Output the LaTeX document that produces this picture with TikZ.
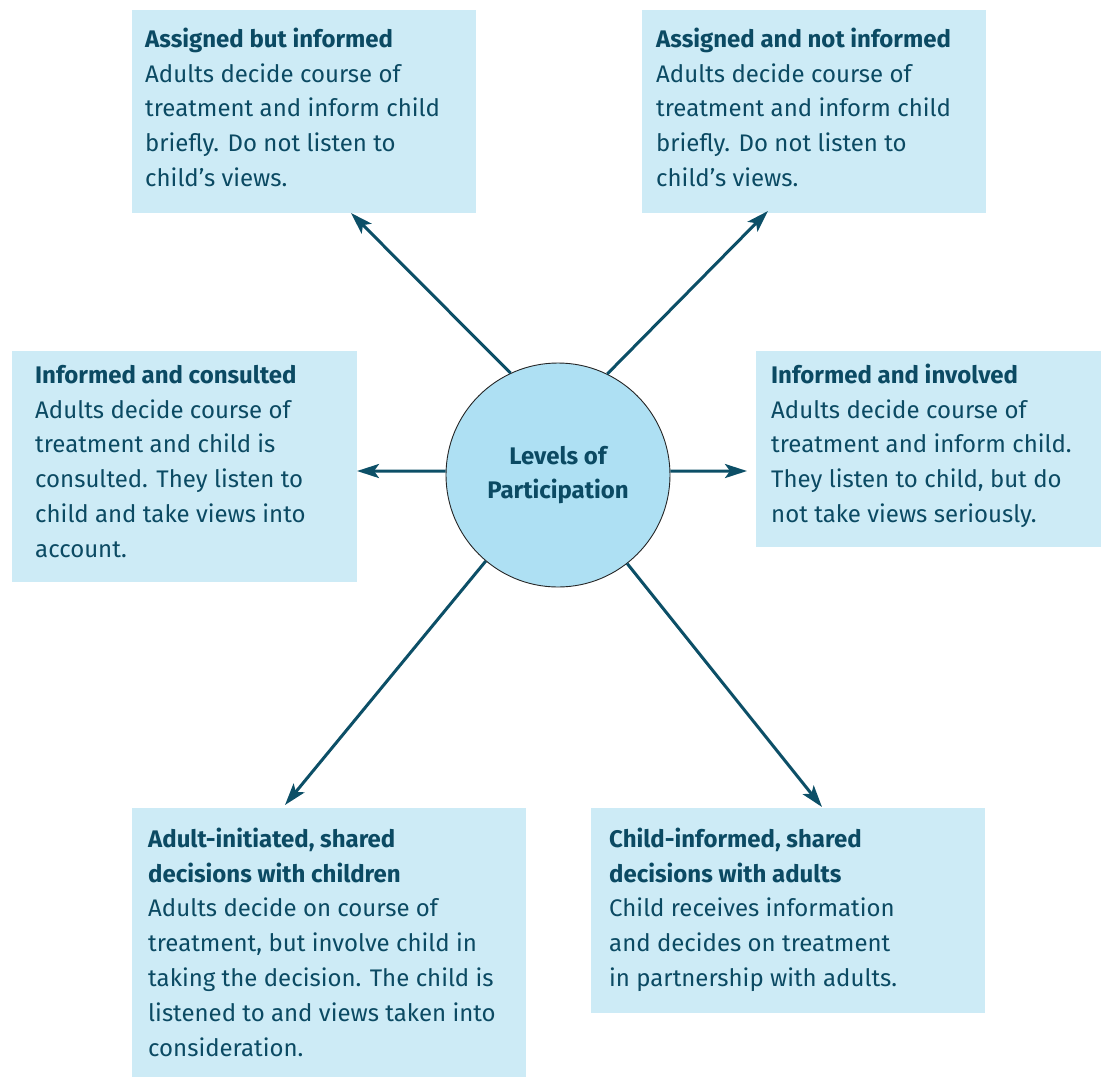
\documentclass[tikz,border=0pt]{standalone}
\usepackage{fontspec}
\setmainfont{Fira Sans}
\usetikzlibrary{arrows.meta,positioning}

\definecolor{boxblue}{HTML}{CDEBF6}
\definecolor{hubblue}{HTML}{AEE0F3}
\definecolor{inkteal}{HTML}{0B4A63}
\definecolor{arrowteal}{HTML}{0C4F67}

\tikzset{
  levelbox/.style={fill=boxblue, inner sep=0pt, anchor=north west},
  leveltext/.style={inner sep=0pt, anchor=north west, align=left, text=inkteal,
    font=\fontsize{24}{34.8}\selectfont},
  hub/.style={circle, fill=hubblue, draw=black!85, line width=0.9pt, minimum size=224pt,
    inner sep=0pt, align=center, text=inkteal, font=\bfseries\fontsize{24}{34.8}\selectfont},
  levelarrow/.style={draw=arrowteal, line width=3pt, -{Stealth[length=22pt,width=14pt,inset=5pt]}}
}

\begin{document}
\begin{tikzpicture}[x=1pt, y=-1pt]
\useasboundingbox (0,0) rectangle (1101,1077);

\node[levelbox, minimum width=344pt, minimum height=203pt] (assigned) at (132,10) {}; % assigned but informed
\node[leveltext] (assigned-text) at (145,22.7) {\strut\textbf{Assigned but informed}\\
  Adults decide course of\\ treatment and inform child\\ briefly. Do not listen to\\ child’s views.};

\node[levelbox, minimum width=344pt, minimum height=203pt] (notinf) at (642,10) {}; % assigned and not informed
\node[leveltext] (notinf-text) at (656,22.7) {\strut\textbf{Assigned and not informed}\\
  Adults decide course of\\ treatment and inform child\\ briefly. Do not listen to\\ child’s views.};

\node[levelbox, minimum width=345pt, minimum height=231pt] (consulted) at (12,351) {}; % informed and consulted
\node[leveltext] (consulted-text) at (35,358.7) {\strut\textbf{Informed and consulted}\\
  Adults decide course of\\ treatment and child is\\ consulted. They listen to\\ child and take views into\\ account.};

\node[levelbox, minimum width=345pt, minimum height=196pt] (involved) at (756,351) {}; % informed and involved
\node[leveltext] (involved-text) at (771,358.7) {\strut\textbf{Informed and involved}\\
  Adults decide course of\\ treatment and inform child.\\ They listen to child, but do\\ not take views seriously.};

\node[levelbox, minimum width=394pt, minimum height=269pt] (adultinit) at (132,808) {}; % adult-initiated
\node[leveltext] (adultinit-text) at (148,822.7) {\strut\textbf{Adult-initiated, shared}\\
  \textbf{decisions with children}\\ Adults decide on course of\\ treatment, but involve child in\\
  taking the decision. The child is\\ listened to and views taken into\\ consideration.};

\node[levelbox, minimum width=394pt, minimum height=205pt] (childinf) at (591,808) {}; % child-informed
\node[leveltext] (childinf-text) at (609,822.7) {\strut\textbf{Child-informed, shared}\\
  \textbf{decisions with adults}\\ Child receives information\\ and decides on treatment\\
  in partnership with adults.};

\node[hub] (hub) at (558,475) {Levels of\\ Participation}; % centre

% arrow tips at the boxes
\coordinate (assigned-tip) at (351,213);
\coordinate (notinf-tip) at (768,211);
\coordinate (consulted-tip) at (357,471);
\coordinate (involved-tip) at (747,471);
\coordinate (adultinit-tip) at (285,805);
\coordinate (childinf-tip) at (822,807);

\draw[levelarrow] (hub.115.2) -- (assigned-tip);
\draw[levelarrow] (hub.64.3) -- (notinf-tip);
\draw[levelarrow] (hub.178) -- (consulted-tip);
\draw[levelarrow] (hub.2) -- (involved-tip);
\draw[levelarrow] (hub.230.7) -- (adultinit-tip);
\draw[levelarrow] (hub.308.5) -- (childinf-tip);

\end{tikzpicture}
\end{document}
